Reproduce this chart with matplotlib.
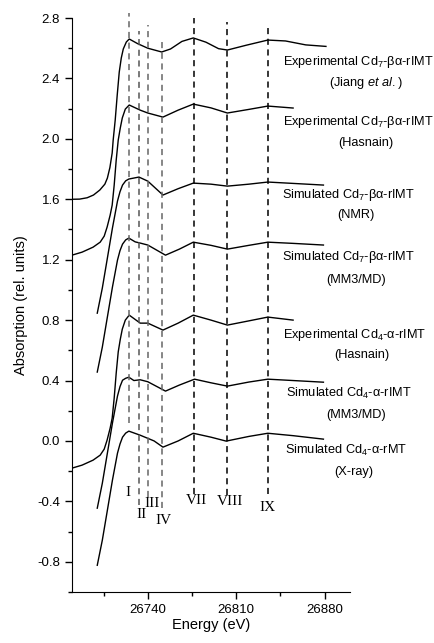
import numpy as np
import matplotlib
matplotlib.use('Agg')
import matplotlib.pyplot as plt

plt.rcParams['font.family'] = ['Liberation Sans', 'DejaVu Sans']
plt.rcParams['mathtext.fontset'] = 'custom'
plt.rcParams['mathtext.rm'] = 'Liberation Sans'
plt.rcParams['mathtext.it'] = 'Liberation Sans:italic'

# ---- spectra (energy in eV, absorption in rel. units) ----
e_jiang = [26680, 26686, 26692, 26697, 26702, 26706, 26708, 26710, 26711.8, 26712.6,
           26714.2, 26715.8, 26717.4, 26719, 26720.6, 26723, 26725.3, 26732, 26740,
           26751, 26758, 26767, 26776, 26786, 26796, 26803, 26818, 26835, 26849,
           26865, 26881]
a_jiang = [1.600, 1.601, 1.610, 1.628, 1.661, 1.700, 1.740, 1.810, 1.906, 1.992,
           2.124, 2.290, 2.442, 2.535, 2.595, 2.641, 2.661, 2.630, 2.600,
           2.575, 2.595, 2.645, 2.668, 2.640, 2.597, 2.588, 2.620, 2.654, 2.648,
           2.622, 2.612]

e_has7 = [26680, 26688, 26696.7, 26702.3, 26705.5, 26707.8, 26710.2, 26711.8, 26713.4,
          26715, 26716.6, 26718.2, 26719.8, 26722.2, 26725.3, 26734, 26740, 26752,
          26764, 26776, 26790, 26803, 26820, 26835, 26855]
a_has7 = [1.230, 1.250, 1.283, 1.316, 1.356, 1.416, 1.495, 1.561, 1.694,
          1.860, 1.992, 2.071, 2.138, 2.197, 2.224, 2.190, 2.171, 2.144,
          2.190, 2.230, 2.205, 2.171, 2.195, 2.217, 2.204]

e_nmr = [26700, 26704, 26708, 26712, 26716, 26718, 26720, 26722.5, 26725, 26733, 26740,
         26752, 26764, 26776, 26790, 26803, 26820, 26835, 26855, 26879]
a_nmr = [0.846, 1.012, 1.210, 1.409, 1.588, 1.650, 1.694, 1.722, 1.734, 1.747, 1.720,
         1.628, 1.670, 1.707, 1.700, 1.687, 1.700, 1.714, 1.705, 1.694]

e_mm7 = [26700, 26704, 26708, 26712, 26716, 26718, 26720, 26722.5, 26725, 26730, 26734,
         26740, 26754, 26765, 26776, 26790, 26803, 26820, 26835, 26855, 26879]
a_mm7 = [0.456, 0.621, 0.820, 1.018, 1.197, 1.260, 1.303, 1.331, 1.343, 1.318, 1.310,
         1.297, 1.230, 1.270, 1.316, 1.295, 1.270, 1.295, 1.316, 1.308, 1.297]

e_has4 = [26680, 26688, 26696.7, 26702.3, 26705.5, 26707.8, 26710.2, 26711.8, 26713.4,
          26715, 26716.6, 26718.2, 26719.8, 26722.2, 26725.3, 26734, 26740, 26752,
          26764, 26776, 26790, 26803, 26820, 26835, 26855]
a_has4 = [-0.180, -0.160, -0.127, -0.094, -0.054, 0.006, 0.085, 0.151, 0.284,
          0.450, 0.590, 0.672, 0.740, 0.800, 0.833, 0.780, 0.780, 0.734,
          0.780, 0.833, 0.800, 0.767, 0.795, 0.820, 0.800]

e_mm4 = [26700, 26704, 26708, 26712, 26716, 26718, 26720, 26722.5, 26725, 26729, 26734,
         26740, 26754, 26765, 26777, 26790, 26803, 26820, 26835, 26855, 26879]
a_mm4 = [-0.445, -0.280, -0.081, 0.118, 0.297, 0.360, 0.402, 0.415, 0.422, 0.400, 0.405,
         0.392, 0.330, 0.370, 0.409, 0.385, 0.363, 0.390, 0.409, 0.400, 0.389]

e_xray = [26700, 26704, 26708, 26712, 26716, 26718, 26720, 26722.5, 26725, 26734, 26745,
          26752, 26764, 26776, 26790, 26802, 26820, 26835, 26855, 26879]
a_xray = [-0.823, -0.657, -0.459, -0.260, -0.081, -0.020, 0.025, 0.052, 0.065, 0.038,
          0.000, -0.041, 0.000, 0.051, 0.025, -0.001, 0.030, 0.051, 0.035, 0.012]

spectra = [(e_jiang, a_jiang), (e_has7, a_has7), (e_nmr, a_nmr), (e_mm7, a_mm7),
           (e_has4, a_has4), (e_mm4, a_mm4), (e_xray, a_xray)]

labels_top = ['Experimental Cd$_7$-βα-rIMT', 'Experimental Cd$_7$-βα-rIMT',
              'Simulated Cd$_7$-βα-rIMT', 'Simulated Cd$_7$-βα-rIMT',
              'Experimental Cd$_4$-α-rIMT', 'Simulated Cd$_4$-α-rIMT',
              'Simulated Cd$_4$-α-rMT']
labels_bottom = ['(Jiang $\\it{et\\ al.}$)', '(Hasnain)', '(NMR)', '(MM3/MD)',
                 '(Hasnain)', '(MM3/MD)', '(X-ray)']
label_x = [26906.5, 26906.5, 26899, 26899, 26903.5, 26899, 26897]
label_y1 = [2.509, 2.111, 1.628, 1.217, 0.700, 0.316, -0.061]
label_y2 = [2.370, 1.972, 1.495, 1.065, 0.568, 0.171, -0.207]

# feature markers
feat_names = ['I', 'II', 'III', 'IV', 'VII', 'VIII', 'IX']
feat_e = [26725.3, 26733.3, 26740.2, 26751.6, 26776.3, 26803.0, 26835.4]
feat_top = [2.833, 2.714, 2.754, 2.648, 2.800, 2.774, 2.740]
feat_bot = [0.118, -0.425, -0.372, -0.445, -0.352, -0.359, -0.352]
feat_lab_e = [26724.5, 26734.9, 26743.6, 26752.4, 26778.6, 26804.9, 26835.1]
feat_lab_a = [-0.339, -0.485, -0.412, -0.525, -0.392, -0.399, -0.439]
feat_col = ['#666666', '#555555', '#666666', '#666666', 'black', 'black', 'black']


def plot():
    fig = plt.figure(figsize=(4.35, 6.43), dpi=100)
    ax = fig.add_axes([0.1655, 0.0793, 0.639, 0.8927])

    for e, a in spectra:
        ax.plot(e, a, color='black', lw=1.0)

    for i in range(len(feat_e)):
        ax.plot([feat_e[i], feat_e[i]], [feat_bot[i], feat_top[i]], color=feat_col[i],
                lw=1.1, dashes=(4, 3), clip_on=False)
        ax.text(feat_lab_e[i], feat_lab_a[i], feat_names[i], family='Liberation Serif',
                fontsize=11, ha='center', va='center')

    for i in range(len(labels_top)):
        ax.text(label_x[i], label_y1[i], labels_top[i], fontsize=9.2, ha='center',
                va='center', clip_on=False)
        ax.text(label_x[i] + 6, label_y2[i], labels_bottom[i], fontsize=9.2, ha='center',
                va='center', clip_on=False)

    ax.set_xlim(26680, 26900)
    ax.set_ylim(-1.0, 2.8)
    ax.set_xticks([26740, 26810, 26880])
    ax.set_xticks([26705, 26775, 26845], minor=True)
    ax.set_yticks(np.arange(-0.8, 2.81, 0.4))
    ax.set_yticks(np.arange(-1.0, 2.81, 0.2), minor=True)
    ax.set_yticklabels(['%.1f' % v for v in np.arange(-0.8, 2.81, 0.4)])
    ax.spines['top'].set_visible(False)
    ax.spines['right'].set_visible(False)
    ax.tick_params(which='major', direction='out', length=5, width=1, labelsize=9.5)
    ax.tick_params(which='minor', direction='out', length=3, width=1)

    ax.set_xlabel('Energy (eV)', fontsize=10.5)
    ax.set_ylabel('Absorption (rel. units)', fontsize=10.5)
    ax.xaxis.set_label_coords(0.5, -0.045)
    ax.yaxis.set_label_coords(-0.16, 0.5)

    fig.savefig('out.png', dpi=100)


def main():
    plot()


if __name__ == '__main__':
    main()
